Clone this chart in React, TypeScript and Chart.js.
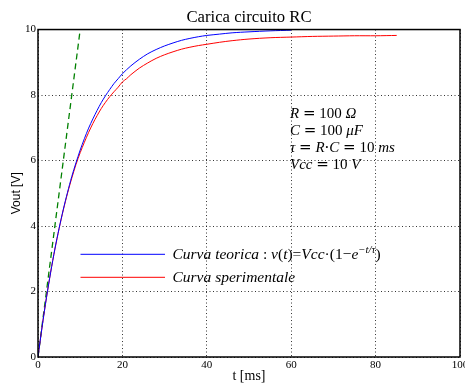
import { useEffect, useRef } from 'react';
import { Chart, registerables } from 'chart.js';

Chart.register(...registerables);

// ---- data ----
const theoryT = [0, 1, 2, 3, 4, 5, 6, 7, 8, 9, 10, 11, 12, 13, 14, 15, 16, 17, 18, 19, 20, 22, 24, 26, 28, 30, 32, 34, 36, 38, 40, 43, 46, 50, 55, 60];
const theoryV = [0, 0.95, 1.81, 2.59, 3.3, 3.93, 4.51, 5.03, 5.51, 5.93, 6.32, 6.67, 6.99, 7.27, 7.53, 7.77, 7.98, 8.17, 8.35, 8.5, 8.65, 8.89, 9.09, 9.26, 9.39, 9.5, 9.59, 9.67, 9.73, 9.78, 9.82, 9.86, 9.9, 9.93, 9.96, 9.98];

const expT = [0, 1, 2, 3, 4, 5, 6, 7, 8, 9, 10, 11, 12, 13, 14, 15, 16, 17, 18, 19, 20, 21, 22, 24, 26, 28, 30, 32, 34, 36, 38, 40, 43, 46, 50, 55, 60, 65, 70, 75, 80, 85];
const expV = [0, 0.95, 1.81, 2.59, 3.29, 3.92, 4.49, 5.0, 5.46, 5.88, 6.24, 6.56, 6.86, 7.13, 7.37, 7.59, 7.78, 7.95, 8.1, 8.24, 8.4, 8.5, 8.62, 8.82, 8.98, 9.12, 9.23, 9.32, 9.4, 9.46, 9.51, 9.55, 9.61, 9.66, 9.71, 9.75, 9.77, 9.79, 9.8, 9.81, 9.81, 9.82];

const tangentT = [0, 10];
const tangentV = [0, 10];

const xTicks = [0, 20, 40, 60, 80, 100];
const yTicks = [0, 2, 4, 6, 8, 10];

const titleText = 'Carica circuito RC';
const xLabel = 't [ms]';
const yLabel = 'Vout [V]';

// i: italic, m: math symbol font, sup: superscript
type Run = { t: string; i?: boolean; m?: boolean; sup?: boolean };

const legendTheory: Run[] = [
  { t: 'Curva teorica', i: true },
  { t: ' : ' },
  { t: 'v', i: true },
  { t: '(' },
  { t: 't', i: true },
  { t: ')=' },
  { t: 'Vcc', i: true },
  { t: '·(1−' },
  { t: 'e', i: true },
  { t: '−t/τ', i: true, sup: true },
  { t: ')' },
];
const legendExp: Run[] = [{ t: 'Curva sperimentale', i: true }];

const paramLines: Run[][] = [
  [{ t: 'R', i: true }, { t: ' ' }, { t: '=', m: true }, { t: ' 100 ' }, { t: 'Ω', i: true }],
  [{ t: 'C', i: true }, { t: ' ' }, { t: '=', m: true }, { t: ' 100 ' }, { t: 'μF', i: true }],
  [{ t: 'τ', i: true }, { t: ' ' }, { t: '=', m: true }, { t: ' ' }, { t: 'R', i: true }, { t: '·', m: true }, { t: 'C', i: true }, { t: ' ' }, { t: '=', m: true }, { t: ' 10 ' }, { t: 'ms', i: true }],
  [{ t: 'Vcc', i: true }, { t: ' ' }, { t: '=', m: true }, { t: ' 10 ' }, { t: 'V', i: true }],
];

const SERIF = '"Liberation Serif", "DejaVu Serif", serif';
const MATH = '"DejaVu Serif", serif';

function drawRuns(ctx: CanvasRenderingContext2D, x: number, y: number, runs: Run[], size: number) {
  let cx = x;
  for (const r of runs) {
    const fs = r.sup ? size * 0.7 : size;
    ctx.font = `${r.i ? 'italic ' : ''}${fs}px ${r.m ? MATH : SERIF}`;
    const dy = r.sup ? -size * 0.42 : 0;
    ctx.fillText(r.t, cx, y + dy);
    cx += ctx.measureText(r.t).width;
  }
  return cx - x;
}

const overlayPlugin = {
  id: 'overlay',
  afterDraw(chart: any) {
    const { ctx, chartArea } = chart;
    const { left, top, right, bottom } = chartArea;
    ctx.save();
    // axes box
    ctx.strokeStyle = '#000';
    ctx.lineWidth = 1.5;
    ctx.setLineDash([]);
    ctx.strokeRect(left, top, right - left, bottom - top);

    // legend
    const sets = chart.data.datasets;
    const legendItems = [
      { ds: sets[0], runs: legendTheory, y: 254.3 },
      { ds: sets[1], runs: legendExp, y: 277.3 },
    ];
    ctx.textBaseline = 'alphabetic';
    ctx.textAlign = 'left';
    ctx.fillStyle = '#000';
    for (const it of legendItems) {
      ctx.strokeStyle = it.ds.borderColor;
      ctx.lineWidth = 1;
      ctx.beginPath();
      ctx.moveTo(80.5, it.y);
      ctx.lineTo(165, it.y);
      ctx.stroke();
      drawRuns(ctx, 172.5, it.y + 4.8, it.runs, 15.5);
    }

    // parameter annotations
    const baseY = [118, 134.8, 151.8, 168.6];
    paramLines.forEach((runs, k) => drawRuns(ctx, 290, baseY[k], runs, 15));
    ctx.restore();
  },
};

export default function App() {
  const ref = useRef<HTMLCanvasElement | null>(null);

  useEffect(() => {
    if (!ref.current) return;
    const zip = (a: number[], b: number[]) => a.map((x, i) => ({ x, y: b[i] }));
    const chart = new Chart(ref.current, {
      type: 'line',
      data: {
        datasets: [
          {
            label: 'Curva teorica',
            data: zip(theoryT, theoryV),
            borderColor: '#0000ff',
            borderWidth: 1,
            pointRadius: 0,
            tension: 0.3,
            fill: false,
          },
          {
            label: 'Curva sperimentale',
            data: zip(expT, expV),
            borderColor: '#ff0000',
            borderWidth: 1,
            pointRadius: 0,
            tension: 0.3,
            fill: false,
          },
          {
            label: 'tangente',
            data: zip(tangentT, tangentV),
            borderColor: '#008000',
            borderWidth: 1.3,
            borderDash: [6, 4],
            pointRadius: 0,
            fill: false,
          },
        ],
      },
      options: {
        responsive: false,
        animation: false,
        events: [],
        layout: { padding: { top: 0, right: 5, bottom: 0, left: 0 } },
        plugins: {
          legend: { display: false },
          tooltip: { enabled: false },
          title: {
            display: true,
            text: titleText,
            fullSize: false,
            color: '#000',
            font: { family: SERIF, size: 16.7, weight: 'normal', lineHeight: 1.2 },
            padding: { top: 7.3, bottom: 2.2 },
          },
        },
        scales: {
          x: {
            type: 'linear',
            min: 0,
            max: 100,
            afterBuildTicks: (s: any) => { s.ticks = xTicks.map((v) => ({ value: v })); },
            afterFit: (s: any) => { s.height = 26; s.paddingLeft = 0; s.paddingRight = 0; },
            ticks: { color: '#000', font: { family: SERIF, size: 11 }, padding: 1.5, maxRotation: 0, autoSkip: false },
            grid: { color: '#000', lineWidth: 0.8, drawTicks: false },
            border: { display: false, dash: [1, 2.5] },
            title: {
              display: true,
              text: xLabel,
              color: '#000',
              font: { family: SERIF, size: 14, lineHeight: 1 },
              padding: { top: 0, bottom: 0 },
            },
          },
          y: {
            type: 'linear',
            min: 0,
            max: 10,
            afterBuildTicks: (s: any) => { s.ticks = yTicks.map((v) => ({ value: v })); },
            afterFit: (s: any) => { s.width = 38; s.paddingTop = 0; s.paddingBottom = 0; },
            ticks: { color: '#000', font: { family: SERIF, size: 11 }, padding: 2, autoSkip: false },
            grid: { color: '#000', lineWidth: 0.8, drawTicks: false },
            border: { display: false, dash: [1, 2.5] },
            title: {
              display: true,
              text: yLabel,
              color: '#000',
              font: { family: '"Liberation Sans", Arial, sans-serif', size: 12, lineHeight: 1.2 },
              padding: { top: 9.8, bottom: 0 },
            },
          },
        },
      },
      plugins: [overlayPlugin],
    });
    return () => chart.destroy();
  }, []);

  return (
    <div style={{ position: 'fixed', left: 0, top: 0, width: 465, height: 383, background: '#fff' }}>
      <canvas ref={ref} width={465} height={383} style={{ width: 465, height: 383, display: 'block' }} />
    </div>
  );
}
